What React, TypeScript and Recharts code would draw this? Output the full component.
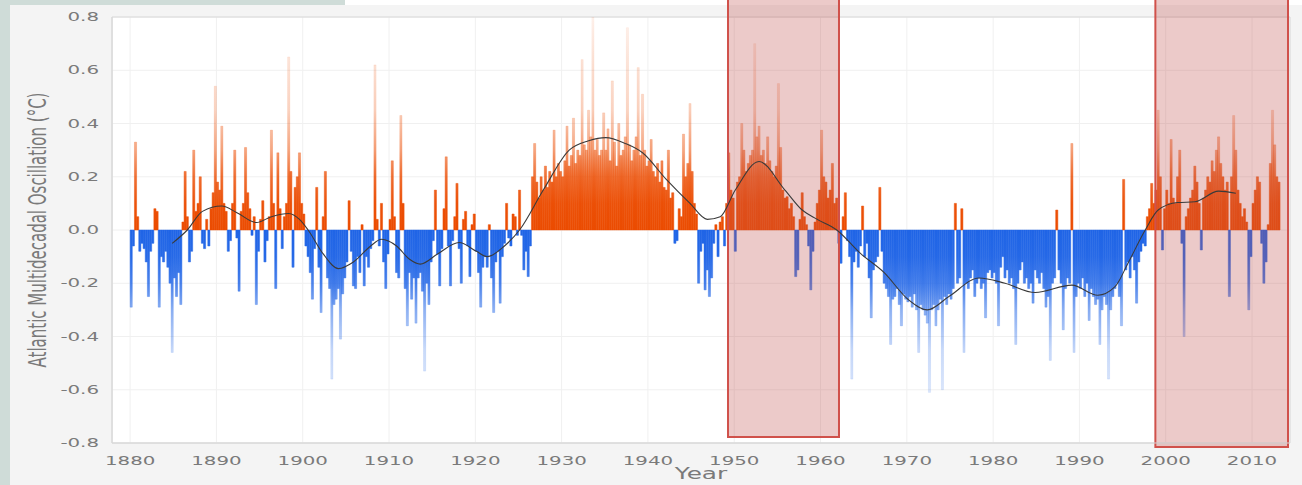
import React from 'react';
import {
  ComposedChart, Bar, Cell, Line, XAxis, YAxis, CartesianGrid, ReferenceArea,
} from 'recharts';

// Quarterly AMO values (°C), one array per decade, 4 values per year
const amo1880s = [
  -0.29, -0.06, 0.33, 0.05, -0.08, -0.05, -0.07, -0.12, -0.25, -0.08, -0.05, 0.08,
  0.07, -0.29, -0.10, -0.12, -0.08, -0.14, -0.20, -0.46, -0.18, -0.25, -0.16, -0.28,
  0.03, 0.22, 0.05, -0.12, -0.08, 0.30, 0.07, 0.10, 0.20, -0.05, -0.07, 0.04,
  -0.06, 0.08, 0.14, 0.54,
];
const amo1890s = [
  0.18, 0.15, 0.39, 0.10, 0.07, -0.08, -0.04, 0.10, 0.30, -0.03, -0.23, 0.07,
  0.10, 0.31, 0.14, 0.08, -0.02, 0.05, -0.28, -0.08, 0.04, 0.11, -0.12, -0.04,
  0.05, 0.375, 0.10, -0.22, 0.29, 0.08, -0.07, 0.05, 0.10, 0.65, 0.22, -0.14,
  0.16, 0.20, 0.29, 0.10,
];
const amo1900s = [
  0.06, -0.06, -0.10, -0.16, -0.26, -0.07, 0.16, -0.14, -0.31, 0.05, 0.22, -0.18,
  -0.22, -0.56, -0.28, -0.26, -0.22, -0.41, -0.24, -0.18, -0.12, 0.11, -0.08, -0.21,
  -0.22, -0.10, -0.16, 0.02, -0.21, -0.10, -0.14, -0.07, -0.04, 0.62, 0.04, -0.06,
  0.10, -0.12, -0.22, -0.09,
];
const amo1910s = [
  0.04, 0.26, 0.05, -0.16, -0.18, 0.43, 0.10, -0.22, -0.36, -0.16, -0.26, -0.18,
  -0.35, -0.18, -0.16, -0.23, -0.53, -0.20, -0.28, -0.12, -0.04, 0.15, -0.09, -0.21,
  -0.07, 0.08, 0.275, -0.06, -0.21, -0.04, 0.05, 0.175, -0.07, -0.20, 0.04, 0.07,
  -0.06, -0.175, 0.02, 0.06,
];
const amo1920s = [
  -0.08, -0.16, -0.29, -0.14, -0.10, -0.14, 0.02, -0.18, -0.31, -0.12, -0.08, -0.275,
  -0.10, -0.05, 0.10, -0.03, -0.06, 0.06, 0.05, -0.02, 0.15, -0.02, -0.15, -0.08,
  -0.175, -0.06, 0.20, 0.325, 0.18, 0.12, 0.20, 0.15, 0.24, 0.16, 0.22, 0.18,
  0.375, 0.20, 0.25, 0.22,
];
const amo1930s = [
  0.20, 0.26, 0.39, 0.24, 0.28, 0.42, 0.25, 0.30, 0.28, 0.64, 0.32, 0.30,
  0.45, 0.35, 0.80, 0.30, 0.34, 0.28, 0.30, 0.44, 0.30, 0.38, 0.26, 0.56,
  0.33, 0.24, 0.40, 0.28, 0.30, 0.35, 0.76, 0.32, 0.26, 0.30, 0.35, 0.61,
  0.28, 0.51, 0.30, 0.24,
];
const amo1940s = [
  0.26, 0.34, 0.22, 0.20, 0.25, 0.18, 0.26, 0.16, 0.15, 0.30, 0.12, 0.14,
  -0.05, -0.04, 0.08, 0.05, 0.36, 0.20, 0.25, 0.475, 0.22, 0.10, 0.06, -0.20,
  -0.08, -0.05, -0.225, -0.15, -0.25, -0.18, -0.05, 0.02, -0.10, 0.03, 0.05, -0.06,
  0.10, 0.29, 0.15, 0.12,
];
const amo1950s = [
  -0.08, 0.18, 0.20, 0.40, 0.30, 0.22, 0.25, 0.28, 0.30, 0.70, 0.35, 0.39,
  0.28, 0.30, 0.25, 0.35, 0.26, 0.22, 0.20, 0.24, 0.55, 0.31, 0.15, 0.12,
  0.125, 0.08, 0.10, 0.05, -0.175, -0.15, 0.04, 0.14, 0.05, 0.02, -0.06, -0.225,
  -0.08, 0.03, 0.10, 0.15,
];
const amo1960s = [
  0.375, 0.20, 0.18, 0.12, 0.15, 0.25, 0.10, 0.12, -0.05, -0.125, 0.05, 0.14,
  -0.04, -0.10, -0.56, -0.12, -0.08, -0.14, -0.06, 0.09, -0.10, -0.05, -0.18, -0.33,
  -0.15, -0.12, -0.10, 0.16, -0.08, -0.20, -0.22, -0.25, -0.43, -0.26, -0.25, -0.22,
  -0.28, -0.36, -0.24, -0.26,
];
const amo1970s = [
  -0.27, -0.25, -0.29, -0.24, -0.30, -0.46, -0.28, -0.30, -0.32, -0.35, -0.61, -0.30,
  -0.28, -0.36, -0.30, -0.26, -0.60, -0.25, -0.28, -0.24, -0.26, -0.22, 0.10, -0.20,
  -0.18, 0.08, -0.46, -0.20, -0.22, -0.18, -0.15, -0.25, -0.20, -0.18, -0.22, -0.20,
  -0.33, -0.16, -0.15, -0.18,
];
const amo1980s = [
  -0.16, -0.20, -0.36, -0.14, -0.10, -0.18, -0.15, -0.20, -0.18, -0.22, -0.43, -0.20,
  -0.15, -0.12, -0.20, -0.18, -0.22, -0.20, -0.275, -0.15, -0.18, -0.20, -0.16, -0.22,
  -0.29, -0.25, -0.49, -0.20, -0.18, 0.075, -0.15, -0.20, -0.375, -0.22, -0.18, -0.20,
  0.325, -0.46, -0.25, -0.20,
];
const amo1990s = [
  -0.22, -0.18, -0.25, -0.20, -0.34, -0.22, -0.25, -0.28, -0.26, -0.43, -0.30, -0.25,
  -0.28, -0.56, -0.30, -0.25, -0.22, -0.20, -0.25, -0.36, 0.19, -0.15, -0.12, -0.18,
  -0.10, -0.15, -0.275, -0.12, -0.08, -0.05, -0.06, 0.05, 0.08, 0.175, 0.10, 0.15,
  0.45, 0.20, -0.075, 0.08,
];
const amo2000s = [
  0.15, 0.10, 0.34, 0.12, 0.10, 0.20, 0.30, -0.05, -0.40, 0.05, 0.08, 0.12,
  0.15, 0.24, 0.18, 0.10, -0.075, 0.12, 0.15, 0.20, 0.18, 0.26, 0.22, 0.30,
  0.35, 0.25, 0.20, 0.15, 0.18, -0.25, 0.20, 0.43, 0.30, 0.15, 0.10, 0.05,
  0.08, 0.03, -0.30, -0.10,
];
const amo2010s = [
  0.10, 0.15, 0.20, 0.18, -0.05, -0.20, -0.12, 0.02, 0.25, 0.45, 0.32, 0.20,
  0.18,
];
const decadeStarts = [1880, 1890, 1900, 1910, 1920, 1930, 1940, 1950, 1960, 1970, 1980, 1990, 2000, 2010];
const decadeValues = [
  amo1880s, amo1890s, amo1900s, amo1910s, amo1920s, amo1930s, amo1940s,
  amo1950s, amo1960s, amo1970s, amo1980s, amo1990s, amo2000s, amo2010s,
];

// Smoothed (low-pass) AMO curve, sampled at quarter centres
const smoothYears = [
  1884.875, 1886.625, 1888.375, 1890.625, 1892.375, 1894.625, 1896.375, 1898.375, 1899.625, 1900.625,
  1902.375, 1904.125, 1905.875, 1907.875, 1909.125, 1910.875, 1912.375, 1913.625, 1915.625, 1918.125,
  1920.125, 1921.375, 1923.375, 1925.125, 1927.875, 1930.875, 1933.125, 1935.125, 1937.375, 1939.375,
  1942.125, 1944.875, 1946.875, 1948.375, 1950.125, 1952.875, 1955.875, 1957.875, 1959.625, 1961.875,
  1964.625, 1967.375, 1970.125, 1972.375, 1974.875, 1978.375, 1981.375, 1984.875, 1989.125, 1992.125,
  1994.125, 1995.625, 1997.625, 1999.125, 2001.375, 2003.375, 2006.125, 2008.125,
];
const smoothValues = [
  -0.05, 0.0, 0.07, 0.09, 0.065, 0.028, 0.05, 0.062, 0.04, 0.0,
  -0.09, -0.145, -0.12, -0.06, -0.035, -0.06, -0.11, -0.128, -0.09, -0.047,
  -0.08, -0.10, -0.06, 0.0, 0.15, 0.30, 0.335, 0.347, 0.325, 0.29,
  0.19, 0.10, 0.04, 0.05, 0.15, 0.257, 0.15, 0.075, 0.04, 0.0,
  -0.088, -0.16, -0.26, -0.30, -0.25, -0.18, -0.20, -0.235, -0.207, -0.245,
  -0.213, -0.125, 0.0, 0.075, 0.103, 0.106, 0.146, 0.138,
];

// Highlighted periods
const highlightFrom = [1949.28, 1998.8];
const highlightTo = [1962.14, 2014.17];
const highlightBottom = [-0.777, -0.815];

const xTicks = [1880, 1890, 1900, 1910, 1920, 1930, 1940, 1950, 1960, 1970, 1980, 1990, 2000, 2010];
const yTicks = [-0.8, -0.6, -0.4, -0.2, 0, 0.2, 0.4, 0.6, 0.8];

const rows: { x: number; v: number }[] = [];
decadeValues.forEach((arr, d) => {
  arr.forEach((v, i) => rows.push({ x: decadeStarts[d] + i / 4 + 0.125, v }));
});
const smoothRows = smoothYears.map((x, i) => ({ x, s: smoothValues[i] }));

const FONT = '"DejaVu Sans", Verdana, sans-serif';
const STRETCH = 1.65;

const XTick = (props: any) => {
  const { x, y, payload } = props;
  return (
    <g transform={`translate(${x},${y + 16}) scale(${STRETCH},1)`}>
      <text x={0} y={0} textAnchor="middle" dominantBaseline="central" fontFamily={FONT} fontSize={12} fill="#7a7a7a">
        {payload.value}
      </text>
    </g>
  );
};

const YTick = (props: any) => {
  const { y, payload } = props;
  return (
    <g transform={`translate(99,${y}) scale(${STRETCH},1)`}>
      <text x={0} y={0} textAnchor="end" dominantBaseline="central" fontFamily={FONT} fontSize={12} fill="#7a7a7a">
        {Number(payload.value).toFixed(1)}
      </text>
    </g>
  );
};

const XTitle = (props: any) => {
  const vb = props.viewBox || {};
  const cx = (vb.x ?? 112) + (vb.width ?? 1178) / 2;
  return (
    <g transform={`translate(${cx},474) scale(${STRETCH},1)`}>
      <text x={0} y={0} textAnchor="middle" dominantBaseline="central" fontFamily={FONT} fontSize={15} fill="#7a7a7a">
        Year
      </text>
    </g>
  );
};

const YTitle = (props: any) => {
  const vb = props.viewBox || {};
  const cy = (vb.y ?? 17) + (vb.height ?? 426) / 2;
  return (
    <g transform={`translate(38,${cy}) scale(${STRETCH},1) rotate(-90)`}>
      <text x={0} y={0} textAnchor="middle" dominantBaseline="central" fontFamily={FONT} fontSize={15} fill="#7a7a7a">
        Atlantic Multidecadal Oscillation (°C)
      </text>
    </g>
  );
};

export default function App() {
  return (
    <div style={{ position: 'absolute', left: 0, top: 0, width: 1302, height: 485, background: '#cfdcd8', overflow: 'hidden' }}>
      <div style={{ position: 'absolute', left: 10, top: 5, width: 1292, height: 480, background: '#f4f4f4' }} />
      <div style={{ position: 'absolute', left: 345, top: 0, width: 957, height: 5, background: '#ffffff' }} />
      <div style={{ position: 'absolute', left: 0, top: 0 }}>
        <ComposedChart
          width={1302}
          height={485}
          data={rows}
          margin={{ top: 17, right: 12, left: 0, bottom: 0 }}
          barGap={0}
          barCategoryGap={0}
        >
          <defs>
            <linearGradient id="posG" gradientUnits="userSpaceOnUse" x1="0" y1="17" x2="0" y2="230">
              <stop offset="0" stopColor="#eb4b00" stopOpacity={0.07} />
              <stop offset="0.4375" stopColor="#eb4b00" stopOpacity={0.24} />
              <stop offset="0.625" stopColor="#eb4b00" stopOpacity={0.5} />
              <stop offset="0.75" stopColor="#eb4b00" stopOpacity={0.8} />
              <stop offset="0.875" stopColor="#eb4b00" stopOpacity={0.96} />
              <stop offset="1" stopColor="#eb4b00" stopOpacity={1} />
            </linearGradient>
            <linearGradient id="negG" gradientUnits="userSpaceOnUse" x1="0" y1="230" x2="0" y2="443">
              <stop offset="0" stopColor="#1f64e6" stopOpacity={1} />
              <stop offset="0.125" stopColor="#1f64e6" stopOpacity={0.96} />
              <stop offset="0.25" stopColor="#1f64e6" stopOpacity={0.8} />
              <stop offset="0.375" stopColor="#1f64e6" stopOpacity={0.5} />
              <stop offset="0.5625" stopColor="#1f64e6" stopOpacity={0.24} />
              <stop offset="1" stopColor="#1f64e6" stopOpacity={0.07} />
            </linearGradient>
          </defs>
          <CartesianGrid fill="#ffffff" stroke="#f0f0f0" />
          <XAxis
            type="number"
            dataKey="x"
            domain={[1877.9, 2014.4]}
            ticks={xTicks}
            interval={0}
            allowDataOverflow
            tick={<XTick />}
            tickLine={false}
            tickSize={0}
            axisLine={{ stroke: '#d8d8d8' }}
            height={42}
            label={(p: any) => <XTitle {...p} />}
          />
          <YAxis
            type="number"
            domain={[-0.8, 0.8]}
            ticks={yTicks}
            interval={0}
            allowDataOverflow
            tick={<YTick />}
            tickLine={false}
            tickSize={0}
            axisLine={{ stroke: '#d8d8d8' }}
            width={112}
            label={(p: any) => <YTitle {...p} />}
          />
          <Bar dataKey="v" barSize={2.15} isAnimationActive={false}>
            {rows.map((r, i) => (
              <Cell
                key={i}
                fill={r.v >= 0 ? 'url(#posG)' : 'url(#negG)'}
                stroke={r.v >= 0 ? 'url(#posG)' : 'url(#negG)'}
                strokeWidth={0.5}
              />
            ))}
          </Bar>
          {highlightFrom.map((x1, i) => (
            <ReferenceArea
              key={'h' + i}
              x1={x1}
              x2={highlightTo[i]}
              y1={highlightBottom[i]}
              y2={0.95}
              ifOverflow="visible"
              fill="#c0504d"
              fillOpacity={0.3}
              stroke="#d0514b"
              strokeWidth={2}
              {...({ zIndex: 350 } as any)}
            />
          ))}
          <Line
            data={smoothRows}
            dataKey="s"
            type="monotone"
            stroke="#3a3a3a"
            strokeWidth={1.1}
            dot={false}
            isAnimationActive={false}
          />
          <ReferenceArea x1={1877.9} x2={2014.4} y1={-0.8} y2={0.8} fill="none" stroke="#d8d8d8" ifOverflow="visible" />
        </ComposedChart>
      </div>
    </div>
  );
}
